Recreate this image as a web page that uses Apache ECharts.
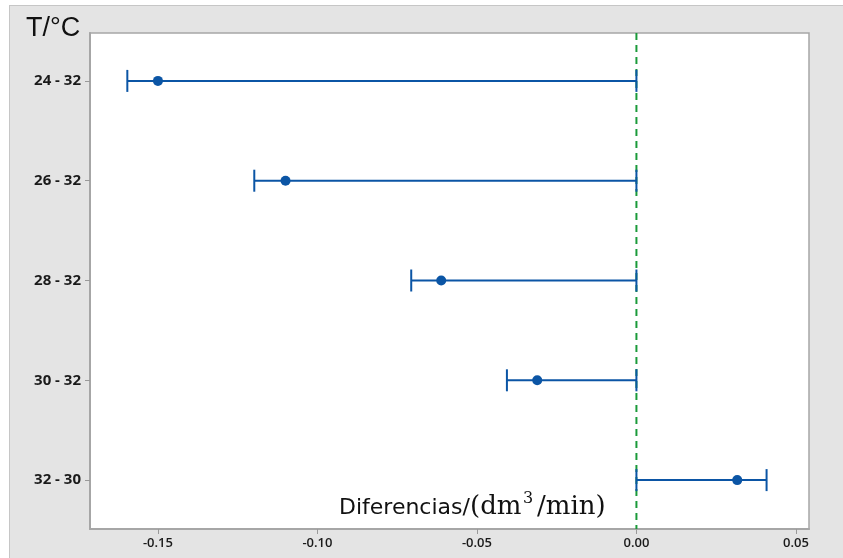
<!DOCTYPE html>
<html><head><meta charset="utf-8">
<script src="https://cdn.jsdelivr.net/npm/echarts@6/dist/echarts.min.js"></script>
<style>
html,body{margin:0;padding:0;background:#fff;}
#wrap{position:relative;width:843px;height:558px;overflow:hidden;}
#panel{position:absolute;left:9px;top:5px;right:-5px;bottom:-5px;background:#e4e4e4;border-top:1px solid #c6c6c6;border-left:1px solid #c6c6c6;}
#c{position:absolute;left:0;top:0;width:843px;height:558px;}
</style>
</head><body>
<div id="wrap"><div id="panel"></div><div id="c"></div></div>
<script>
// ---- data ----
const categories = ['24 - 32', '26 - 32', '28 - 32', '30 - 32', '32 - 30'];
const centers = [-0.1500, -0.1100, -0.0612, -0.0311, 0.0316];
const lowers  = [-0.1596, -0.1198, -0.0706, -0.0406, 0.0000];
const uppers  = [0.0000, 0.0000, 0.0000, 0.0000, 0.0408];
const xTicks = [-0.15, -0.10, -0.05, 0.00, 0.05];
const yTitle = 'T/°C';
const xTitleSans = 'Diferencias/';
const xTitleSerifA = '(dm';
const xTitleSup = '3';
const xTitleSerifB = '/min)';
const zeroLine = 0;

const yPos = categories.map((c, i) => i + 1);
const barData = categories.map((c, i) => [yPos[i], lowers[i], uppers[i], centers[i]]);
const blue = '#0b55a5';
const serif = '"DejaVu Serif", serif';

const chart = echarts.init(document.getElementById('c'), null, {renderer: 'canvas'});
chart.setOption({
  backgroundColor: 'transparent',
  animation: false,
  grid: {left: 90, right: 34, top: 33, bottom: 29, show: true, backgroundColor: '#ffffff', borderColor: '#a6a6a6', borderWidth: 1.5},
  xAxis: {
    type: 'value', min: -0.1713, max: 0.0541,
    axisLine: {show: true, onZero: false, lineStyle: {color: '#a6a6a6', width: 2}},
    axisTick: {show: true, customValues: xTicks, length: 5, lineStyle: {color: '#999'}},
    axisLabel: {customValues: xTicks, formatter: v => v.toFixed(2), fontSize: 13, fontFamily: 'Open Sans', fontWeight: 600, color: '#1a1a1a', margin: 8},
    splitLine: {show: false}
  },
  yAxis: {
    type: 'value', inverse: true, min: 0.52, max: 5.49,
    axisLine: {show: true, onZero: false, lineStyle: {color: '#a6a6a6', width: 2}},
    axisTick: {show: true, customValues: yPos, length: 5, lineStyle: {color: '#999'}},
    axisLabel: {customValues: yPos, formatter: v => categories[Math.round(v) - 1], fontSize: 15, fontFamily: 'Open Sans', fontWeight: 'bold', color: '#1a1a1a', margin: 9},
    splitLine: {show: false}
  },
  graphic: [
    {type: 'text', left: 26, top: 15, style: {text: yTitle, font: '27px "Liberation Sans", Arial, sans-serif', fill: '#111'}},
    {type: 'text', x: 339, y: 508, style: {text: xTitleSans, font: '22px "DejaVu Sans", sans-serif', fill: '#111', verticalAlign: 'middle'}},
    {type: 'text', x: 470, y: 507, style: {text: xTitleSerifA, font: '26px ' + serif, fill: '#111', verticalAlign: 'middle'}},
    {type: 'text', x: 523, y: 499, style: {text: xTitleSup, font: '16px ' + serif, fill: '#111', verticalAlign: 'middle'}},
    {type: 'text', x: 537, y: 507, style: {text: xTitleSerifB, font: '26px ' + serif, fill: '#111', verticalAlign: 'middle'}}
  ],
  series: [
    {
      type: 'line', z: 1, symbol: 'none', silent: true,
      data: [[zeroLine, 0.52], [zeroLine, 5.49]],
      lineStyle: {color: '#1a9a3a', width: 2, type: [7, 5]}
    },
    {
      type: 'custom', z: 3,
      data: barData,
      encode: {x: [1, 2, 3], y: 0},
      renderItem: function (params, api) {
        const y = api.value(0);
        const lo = api.coord([api.value(1), y]);
        const hi = api.coord([api.value(2), y]);
        const c = api.coord([api.value(3), y]);
        const st = {stroke: blue, lineWidth: 2, fill: null};
        const h = 11;
        return {type: 'group', children: [
          {type: 'line', shape: {x1: lo[0], y1: lo[1], x2: hi[0], y2: hi[1]}, style: st},
          {type: 'line', shape: {x1: lo[0], y1: lo[1] - h, x2: lo[0], y2: lo[1] + h}, style: st},
          {type: 'line', shape: {x1: hi[0], y1: hi[1] - h, x2: hi[0], y2: hi[1] + h}, style: st},
          {type: 'circle', shape: {cx: c[0], cy: c[1], r: 5}, style: {fill: blue}}
        ]};
      }
    }
  ]
});
</script>
</body></html>
